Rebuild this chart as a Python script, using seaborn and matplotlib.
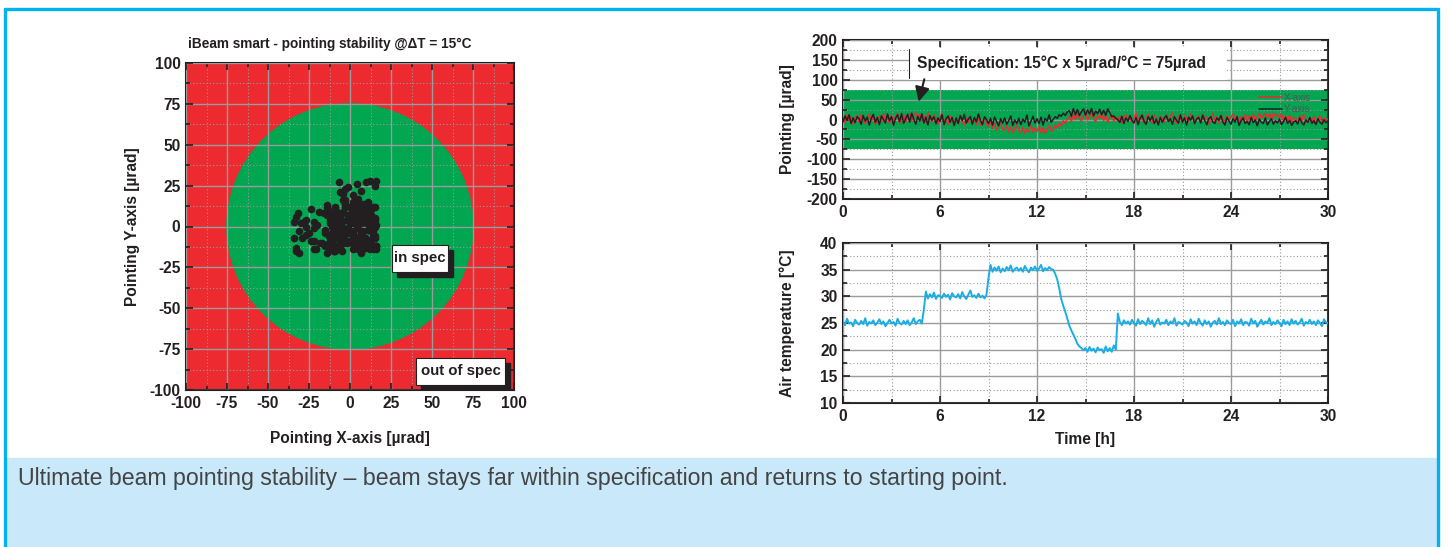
"""
plot.py - iBeam smart pointing stability figure (scatter + time traces)
"""

import numpy as np
import matplotlib
matplotlib.use("Agg")
import matplotlib.pyplot as plt
import seaborn as sns
from matplotlib.patches import Circle, Rectangle
from matplotlib.lines import Line2D
from matplotlib.ticker import MultipleLocator

# ---- data (7.5 min steps over 30 h) ----
hours = np.linspace(0, 30, 241)

pointing_x = [
    6, -9, 11, -3, 8, -12, 4, 10,
    -7, 13, 1, -11, 5, 14, -5, 7,
    -12, 3, 9, -8, 15, -2, 6, -10,
    11, -5, 7, 15, -10, 2, 12, -7,
    8, 15, -4, 13, 16, 3, 14, -3,
    10, -9, 16, 5, -6, 12, 2, -11,
    7, 14, -8, 4, -13, 9, -1, -10,
    5, -12, 10, -4, -14, 3, -7, 8,
    -9, 2, -13, 6, -15, -6, 4, -11,
    -18, -6, -22, -11, -27, -14, -8, -24,
    -27, -15, -31, -19, -33, -22, -13, -28,
    -33, -20, -34, -24, -31, -15, -32, -22,
    -30, -17, -33, -21, -34, -25, -14, -29,
    -27, -14, -22, -9, -16, -3, -10, 2,
    7, -5, 12, 0, 15, 3, -4, 10,
    13, -1, 8, 16, 2, -6, 11, 4,
    12, -3, 9, -7, 5, 11, -4, 6,
    -6, 9, -10, 3, 12, -4, 7, -8,
    5, 15, -6, 10, 1, -10, 7, 13,
    -2, -9, 11, 4, -12, 9, 2, -6,
    12, -4, 7, 16, -1, -10, 9, 3,
    -8, 11, 2, -6, 14, 6, -11, 4,
    9, -6, 13, -1, 7, -12, 4, 15,
    -4, 8, -9, 11, 2, -7, 10, -1,
    5, 14, -4, 9, -10, 7, -2, 12,
    -6, 9, 1, 13, -4, 7, 16, 3,
    10, 15, 5, 14, 0, 16, 8, 12,
    4, 14, -5, 9, -2, 11, -9, 6,
    2, -10, 9, -4, 12, -1, -8, 5,
    -6, 7, -12, 2, 9, -8, 4, -3,
    2,
]

pointing_y = [
    -6, 9, -2, 12, -10, 4, -8, 7,
    2, -12, 10, -4, 6, -14, 3, 13,
    -7, 5, -13, 9, 0, -9, 14, -3,
    7, -15, 3, 12, -5, 15, -10, 2,
    13, -7, 16, 1, -12, 8, -4, 14,
    -9, 6, -14, 10, -2, 7, -11, 4,
    -5, 12, -13, 2, 9, -7, 5, -15,
    4, -10, 10, -3, 13, -9, 1, 7,
    -12, 5, -6, 14, -2, -13, 7, 0,
    -10, 3, -14, 6, -5, -16, 2, -9,
    4, -12, -3, 9, -15, -1, -10, 3,
    -13, 1, -7, 11, -16, -4, 8, -9,
    2, -10, 6, -14, 3, -4, 12, -7,
    0, 7, 3, 12, 8, 16, 10, 19,
    22, 8, 28, 12, 25, 10, 20, 27,
    11, 24, 14, 28, 9, 21, 15, 26,
    12, 23, 10, 27, 17, 7, 9, 3,
    0, -7, 8, -10, 4, -5, 10, -2,
    -9, 5, -13, 2, 11, -5, -12, 7,
    -3, 9, -10, 1, -14, 5, -7, 4,
    10, -5, 2, -12, 7, -2, -9, 12,
    -7, 4, -14, 6, -2, 9, -10, 1,
    5, -9, 11, -3, -13, 2, 7, -6,
    -10, 4, -2, 10, -7, -14, 5, -4,
    -12, 2, -7, 7, -15, -3, 4, -10,
    -5, -13, 5, -8, -1, -16, 1, -7,
    -10, 4, -14, -5, 2, -12, -3, -9,
    1, -13, -5, 5, -10, -2, -15, -6,
    -3, -12, 4, -8, -14, -1, -7, 5,
    -10, -3, -13, 2, -7, -12, -1, -8,
    -4,
]

air_temp = [
    25.3, 24.6, 25.8, 24.9, 25.1, 24.4, 25.6, 25.0,
    24.7, 25.4, 24.8, 25.9, 24.5, 25.2, 24.9, 25.5,
    24.6, 25.1, 25.7, 24.8, 25.3, 24.4, 25.0, 25.6,
    24.9, 25.2, 24.5, 25.8, 25.0, 24.7, 25.4, 24.8,
    25.5, 24.6, 25.1, 25.9, 24.8, 25.3, 25.6, 24.9,
    27.5, 30.9, 29.6, 30.4, 29.8, 30.7, 29.5, 30.2,
    30.1, 29.7, 30.5, 29.9, 30.3, 29.4, 30.6, 30.0,
    29.8, 30.4, 29.6, 30.8, 30.0, 29.5, 30.3, 31.1,
    29.9, 30.2, 29.7, 30.5, 29.8, 30.1, 29.6, 30.3,
    33.5, 35.9, 34.6, 35.4, 34.8, 35.6, 34.5, 35.2,
    34.7, 35.5, 34.9, 35.8, 34.6, 35.1, 35.4, 34.8,
    35.3, 34.6, 35.7, 35.0, 34.5, 35.4, 34.9, 35.6,
    34.8, 35.2, 35.9, 34.7, 35.3, 34.9, 35.5, 35.1,
    35.0, 34.2, 33.2, 31.5, 29.5, 28.2, 27.1, 25.8,
    24.5, 23.6, 22.8, 22.0, 21.1, 20.6, 20.3, 19.9,
    20.3, 19.6, 20.5, 19.8, 20.2, 19.5, 20.4, 19.9,
    20.1, 19.4, 20.6, 19.7, 20.3, 19.6, 20.8, 20.0,
    26.8, 25.2, 24.6, 25.5, 24.9, 25.3, 24.7, 25.6,
    25.0, 24.5, 25.7, 24.8, 25.4, 25.1, 24.6, 25.9,
    24.8, 25.5, 24.3, 25.2, 25.8, 24.7, 25.1, 24.9,
    25.6, 24.6, 25.3, 24.9, 25.9, 24.5, 25.2, 25.0,
    24.7, 25.4, 25.1, 24.4, 25.7, 24.9, 25.3, 24.6,
    25.8, 25.0, 24.5, 25.5, 24.8, 25.3, 24.3, 25.1,
    25.4, 24.7, 25.9, 24.8, 25.2, 24.6, 25.5, 25.0,
    24.8, 25.6, 24.4, 25.3, 24.9, 25.7, 24.6, 25.2,
    25.1, 24.5, 25.8, 24.9, 25.4, 24.3, 25.0, 25.6,
    24.7, 25.3, 25.0, 25.9, 24.6, 25.2, 24.8, 25.5,
    25.0, 24.4, 25.6, 24.8, 25.3, 24.6, 25.7, 24.9,
    25.4, 24.7, 25.1, 25.8, 24.5, 25.2, 24.9, 25.6,
    24.8, 25.3, 24.6, 25.5, 25.0, 24.4, 25.7, 25.1,
    25.0,
]

spec_limit = 75  # µrad

title = "iBeam smart - pointing stability @\u0394T = 15°C"
spec_note = "Specification: 15°C x 5µrad/°C = 75µrad"
caption = ("Ultimate beam pointing stability \u2013 beam stays far within "
           "specification and returns to starting point.")

# ---- colours ----
INK = "#231f20"
RED = "#ed2a30"
GREEN = "#00a650"
CYAN = "#1aaee5"
GRID = "#9b9b9b"
FRAME = "#00b3ef"
BAND = "#c9e9fa"

W, H = 1448, 547
FS = 11.2  # tick / label size

sns.set_style("ticks")
plt.rcParams["font.family"] = ["Liberation Sans", "DejaVu Sans"]
plt.rcParams["font.weight"] = "bold"
plt.rcParams["axes.labelweight"] = "bold"
plt.rcParams["axes.titleweight"] = "bold"
plt.rcParams["axes.unicode_minus"] = False


def style_axes(ax, xstep, ystep):
    ax.xaxis.set_major_locator(MultipleLocator(xstep))
    ax.xaxis.set_minor_locator(MultipleLocator(xstep / 2))
    ax.yaxis.set_major_locator(MultipleLocator(ystep))
    ax.yaxis.set_minor_locator(MultipleLocator(ystep / 2))
    ax.grid(which="major", color=GRID, lw=1.0)
    ax.grid(which="minor", color=GRID, lw=0.8, ls=(0, (1, 2)))
    ax.set_axisbelow(False)
    ax.tick_params(which="both", direction="in", top=True, right=True,
                   width=1.2, colors=INK, labelsize=FS, pad=4)
    ax.tick_params(which="major", length=5)
    ax.tick_params(which="minor", length=3)
    for s in ax.spines.values():
        s.set_visible(True)
        s.set_linewidth(1.5)
        s.set_color(INK)


fig = plt.figure(figsize=(W / 100, H / 100), dpi=100)

# page decoration: caption band and blue frame
fig.add_artist(Rectangle((6 / W, 0), (1437 - 6) / W, (H - 458) / H,
                         transform=fig.transFigure, color=BAND, zorder=0))
top = 1 - 9 / H
for xs, ys in [([5 / W, 5 / W], [0, top]), ([5 / W, 1438 / W], [top, top]),
               ([1438 / W, 1438 / W], [0, top])]:
    fig.add_artist(Line2D(xs, ys, color=FRAME, lw=2.4, transform=fig.transFigure))
fig.text(18 / W, 1 - 479 / H, caption, fontsize=16.7, color="#444444",
         fontweight="normal", va="center")

# ---- left: scatter of X vs Y pointing ----
ax1 = fig.add_axes([186 / W, 1 - 390 / H, 328 / W, 327 / H])
ax1.set_facecolor(RED)
ax1.add_patch(Circle((0, 0), spec_limit, color=GREEN, zorder=1))
sns.scatterplot(x=pointing_x, y=pointing_y, ax=ax1, color=INK, s=30,
                linewidth=0, zorder=3)
ax1.set_xlim(-100, 100)
ax1.set_ylim(-100, 100)
style_axes(ax1, 25, 25)
ax1.set_title(title, fontsize=9.8, color=INK, pad=11, x=0.437)
ax1.set_xlabel("Pointing X-axis [µrad]", fontsize=FS, color=INK, labelpad=15)
ax1.set_ylabel("Pointing Y-axis [µrad]", fontsize=FS, color=INK, labelpad=7)

for (x0, y0, w, h, label) in [(25.6, -27.8, 34.2, 16.5, "in spec"),
                              (40.2, -96.9, 54.3, 16.5, "out of spec")]:
    ax1.add_patch(Rectangle((x0 + 3, y0 - 3), w, h, color=INK, zorder=4))
    ax1.add_patch(Rectangle((x0, y0), w, h, fc="white", ec=INK, lw=0.8, zorder=5))
    ax1.text(x0 + w / 2, y0 + h / 2, label, ha="center", va="center",
             fontsize=10.8, color=INK, zorder=6)

# ---- top right: pointing vs time ----
ax2 = fig.add_axes([843 / W, 1 - 199 / H, 485 / W, 159 / H])
ax2.axhspan(-spec_limit, spec_limit, color=GREEN, zorder=1, lw=0)
sns.lineplot(x=hours, y=pointing_x, ax=ax2, color=RED, lw=1.1, label="X-axis", zorder=3)
sns.lineplot(x=hours, y=pointing_y, ax=ax2, color=INK, lw=1.1, label="Y-axis", zorder=3)
ax2.set_xlim(0, 30)
ax2.set_ylim(-200, 200)
style_axes(ax2, 6, 50)
ax2.set_ylabel("Pointing [µrad]", fontsize=FS, color=INK, labelpad=8)
ax2.set_xlabel("")
leg = ax2.legend(loc="upper right", bbox_to_anchor=(0.975, 0.70), frameon=False,
                 handlelength=2.4, labelspacing=0.15, borderpad=0,
                 handletextpad=0.2, prop={"weight": "normal", "size": 7})
for t in leg.get_texts():
    t.set_color("#555555")

ax2.add_patch(Rectangle((4.08, 99), 23.75 - 4.08, 81, fc="white", ec="none", zorder=4))
ax2.plot([4.08, 4.08], [105, 178], color=INK, lw=0.8, zorder=5)
ax2.text(4.6, 142, spec_note, fontsize=11.2, color=INK, va="center", zorder=6)
ax2.annotate("", xy=(4.64, 38), xytext=(5.07, 108), zorder=7,
             arrowprops=dict(arrowstyle="-|>", color=INK, lw=1.5, mutation_scale=22))

# ---- bottom right: air temperature vs time ----
ax3 = fig.add_axes([843 / W, 1 - 403 / H, 485 / W, 160 / H])
sns.lineplot(x=hours, y=air_temp, ax=ax3, color=CYAN, lw=1.4, zorder=3)
ax3.set_xlim(0, 30)
ax3.set_ylim(10, 40)
style_axes(ax3, 6, 5)
ax3.set_xlabel("Time [h]", fontsize=FS, color=INK, labelpad=6)
ax3.set_ylabel("Air temperature [°C]", fontsize=FS, color=INK, labelpad=18)

fig.savefig("out.png", dpi=100)
plt.close(fig)
